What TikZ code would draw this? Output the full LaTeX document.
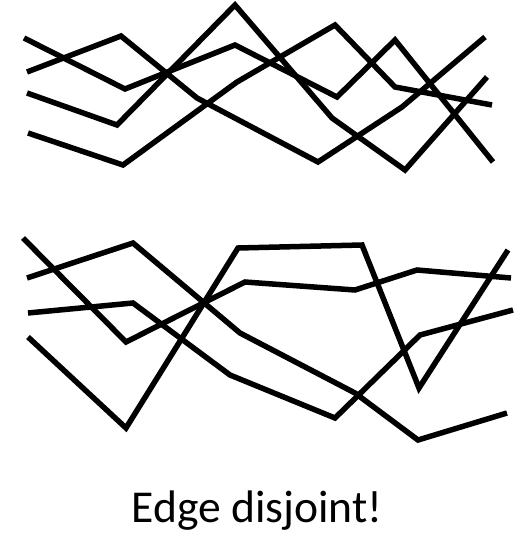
\documentclass[tikz,border=0pt]{standalone}
\usepackage{fontspec}
\setmainfont{Carlito}
\usepackage{tikz}

\begin{document}
\begin{tikzpicture}[x=1pt, y=-1pt,
    wire/.style={line width=5.5pt, line join=miter, black},
    caption/.style={font=\fontsize{45.6}{50}\selectfont, anchor=base, inner sep=0pt}]

    \useasboundingbox (0,0) rectangle (531,533);

    % upper bundle
    \draw[wire] (24,38) -- (125,89) -- (235,45) -- (337,97) -- (395,40) -- (493,162);
    \draw[wire] (27,72) -- (121,36) -- (197,98) -- (318,162) -- (402,107) -- (485,37);
    \draw[wire] (27,93) -- (117,125) -- (235,5) -- (332,118) -- (405,170) -- (487,77);
    \draw[wire] (28,133) -- (123,165) -- (237,82) -- (335,25) -- (395,87) -- (492,105);

    % lower bundle
    \draw[wire] (23,238) -- (126,342) -- (245,282) -- (355,290) -- (417,270) -- (511,278);
    \draw[wire] (27,278) -- (133,243) -- (240,333) -- (355,393) -- (418,440) -- (507,413);
    \draw[wire] (28,313) -- (133,303) -- (230,375) -- (335,418) -- (420,335) -- (513,310);
    \draw[wire] (28,337) -- (126,428) -- (238,248) -- (362,245) -- (419,388) -- (508,250);

    % caption
    \node[caption] (msg) at (257,522) {Edge disjoint!};
\end{tikzpicture}
\end{document}
